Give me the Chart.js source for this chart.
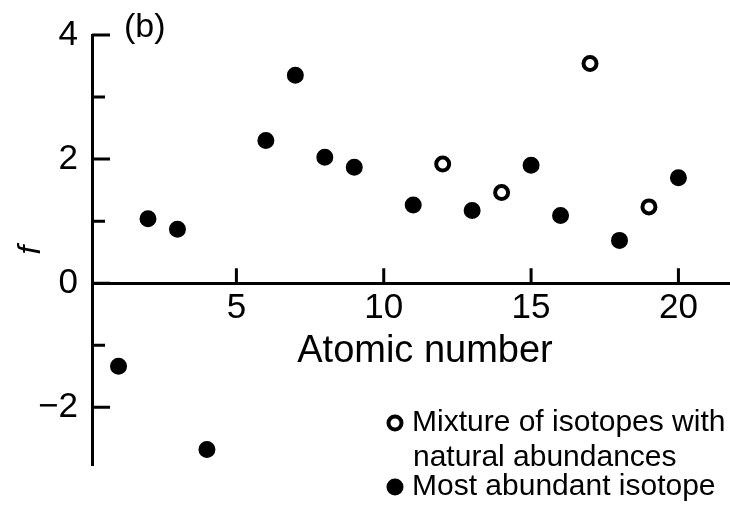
<!DOCTYPE html>
<html>
<head>
<meta charset="utf-8">
<script src="https://cdn.jsdelivr.net/npm/chart.js@4.4.1/dist/chart.umd.min.js"></script>
<style>
  html, body { margin: 0; padding: 0; background: #fff; }
</style>
</head>
<body>
<canvas id="chart" width="730" height="506"></canvas>
<script>
// most abundant isotope (filled)
const filledZ = [1, 2, 3, 4, 6, 7, 8, 9, 11, 13, 15, 16, 18, 20];
const filledF = [-1.34, 1.04, 0.87, -2.68, 2.30, 3.35, 2.03, 1.87, 1.26, 1.17, 1.90, 1.09, 0.69, 1.70];
// mixture of isotopes (open)
const openZ = [12, 14, 17, 19];
const openF = [1.92, 1.46, 3.54, 1.23];

const xTicks = [5, 10, 15, 20];
const yMajorTicks = [-2, 0, 2, 4];
const yMinorTicks = [-1, 1, 3];
const legendOpen = ['Mixture of isotopes with', 'natural abundances'];
const legendFilled = ['Most abundant isotope'];

const FONT = "'Liberation Sans', Arial, Helvetica, sans-serif";

const extras = {
  id: 'extras',
  afterDraw(chart) {
    const { ctx, chartArea, scales: { x, y } } = chart;
    const y0 = y.getPixelForValue(0);
    ctx.save();
    ctx.strokeStyle = '#000';
    ctx.fillStyle = '#000';
    ctx.lineWidth = 3;
    ctx.beginPath();
    yMajorTicks.forEach((v) => {
      const py = y.getPixelForValue(v);
      ctx.moveTo(chartArea.left, py);
      ctx.lineTo(chartArea.left + 18, py);
    });
    yMinorTicks.forEach((v) => {
      const py = y.getPixelForValue(v);
      ctx.moveTo(chartArea.left, py);
      ctx.lineTo(chartArea.left + 13, py);
    });
    xTicks.forEach((v) => {
      const px = x.getPixelForValue(v);
      ctx.moveTo(px, y0);
      ctx.lineTo(px, y0 - 15);
    });
    ctx.stroke();

    ctx.textBaseline = 'middle';
    ctx.textAlign = 'center';
    ctx.font = '38px ' + FONT;
    ctx.fillText('Atomic number', x.getPixelForValue(11.4), y0 + 68);

    ctx.textAlign = 'left';
    ctx.font = '34px ' + FONT;
    ctx.fillText('(b)', chartArea.left + 32, 28);

    // legend
    ctx.font = '30px ' + FONT;
    ctx.fillText(legendOpen[0], 412, 423);
    ctx.fillText(legendOpen[1], 413, 458);
    ctx.fillText(legendFilled[0], 412, 487);
    ctx.lineWidth = 4;
    ctx.beginPath();
    ctx.arc(395, 423, 6.5, 0, Math.PI * 2);
    ctx.stroke();
    ctx.beginPath();
    ctx.arc(395, 487, 8.5, 0, Math.PI * 2);
    ctx.fill();
    ctx.restore();
  },
};

new Chart(document.getElementById('chart'), {
  type: 'scatter',
  data: {
    datasets: [
      {
        label: 'Most abundant isotope',
        data: filledZ.map((z, i) => ({ x: z, y: filledF[i] })),
        backgroundColor: '#000',
        borderColor: '#000',
        pointRadius: 7.5,
        borderWidth: 2,
      },
      {
        label: 'Mixture of isotopes with natural abundances',
        data: openZ.map((z, i) => ({ x: z, y: openF[i] })),
        backgroundColor: '#fff',
        borderColor: '#000',
        pointRadius: 6.5,
        borderWidth: 4,
      },
    ],
  },
  options: {
    responsive: false,
    animation: false,
    events: [],
    layout: { autoPadding: false, padding: { top: 25, bottom: 41, left: 0, right: 0 } },
    plugins: {
      legend: { display: false },
      tooltip: { enabled: false },
    },
    scales: {
      x: {
        type: 'linear',
        position: { y: 0 },
        min: 0.1,
        max: 21.75,
        grid: { display: true, drawOnChartArea: false, drawTicks: false, color: 'rgba(0,0,0,0)' },
        border: { display: true, color: '#000', width: 3 },
        ticks: { color: '#000', font: { family: FONT, size: 35 }, padding: 4, maxRotation: 0, autoSkip: false },
        afterBuildTicks: (scale) => { scale.ticks = xTicks.map((v) => ({ value: v })); },
        afterFit: (scale) => {
          scale.height = 0;
          scale.paddingLeft = 0;
          scale.paddingRight = 0;
        },
      },
      y: {
        type: 'linear',
        position: 'left',
        min: -2.93,
        max: 4,
        grid: { display: true, drawOnChartArea: false, drawTicks: false, color: 'rgba(0,0,0,0)' },
        border: { display: true, color: '#000', width: 3 },
        ticks: {
          color: '#000',
          font: { family: FONT, size: 35 },
          padding: 14,
          callback: (v) => (v < 0 ? '\u2212' + Math.abs(v) : String(v)),
        },
        title: {
          display: true,
          text: 'f',
          color: '#000',
          font: { family: FONT, size: 32, style: 'italic' },
          padding: { top: 12, bottom: 0 },
        },
        afterBuildTicks: (scale) => { scale.ticks = yMajorTicks.map((v) => ({ value: v })); },
        afterFit: (scale) => { scale.width = 92; },
      },
    },
  },
  plugins: [extras],
});
</script>
</body>
</html>
